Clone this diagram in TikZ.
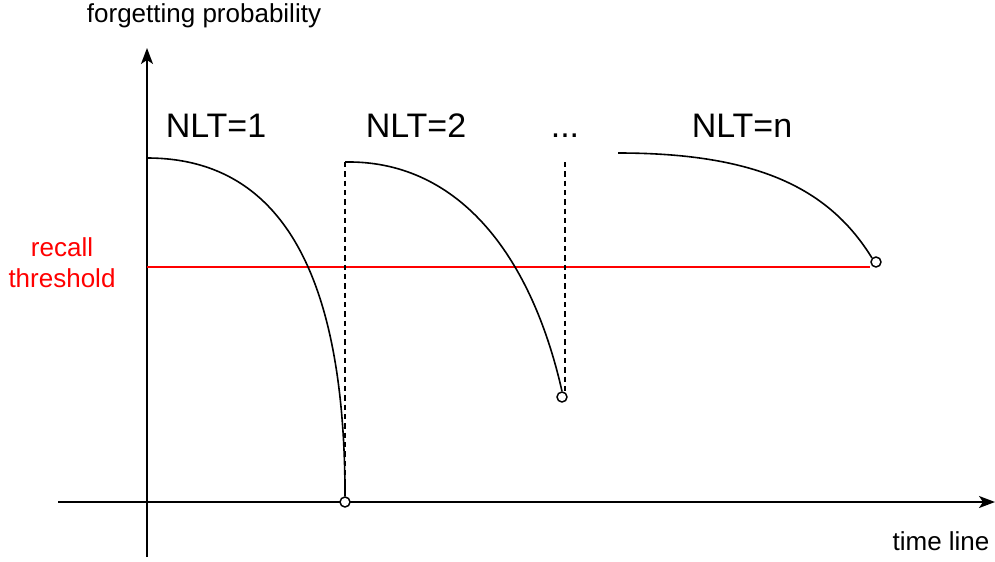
\documentclass[tikz,border=0pt]{standalone}
\usepackage{fontspec}
\setmainfont{Liberation Sans}
\usepackage{tikz}
\usetikzlibrary{arrows.meta,positioning}
\tikzset{
  fgaxis/.style={line width=1.3pt, -{Stealth[length=12pt,width=9pt,inset=3pt]}},
  fgcurve/.style={line width=1.2pt},
  fgdash/.style={line width=1.3pt, dash pattern=on 4pt off 3pt},
  fgend/.style={circle, draw=black, fill=white, line width=1.1pt, minimum size=7.5pt, inner sep=0pt},
  fglab/.style={anchor=base, font=\fontsize{25.5}{30}\selectfont},
  fgtxt/.style={font=\fontsize{19.5}{23.5}\selectfont}
}
\begin{document}
\begin{tikzpicture}[x=0.75pt, y=-0.75pt]
  \useasboundingbox (0,0) rectangle (995,561);
  % axes
  \coordinate (yb) at (147,557);
  \coordinate (yt) at (147,48);
  \coordinate (xl) at (58,502);
  \coordinate (xr) at (995,502);
  \draw[fgaxis] (yb) -- (yt);
  \draw[fgaxis] (xl) -- (xr);
  \node[fgtxt] (ylab) at (204,16) {forgetting probability};
  \node[fgtxt] (xlab) at (941,541) {time line};
  % threshold
  \coordinate (th0) at (147,267);
  \coordinate (th1) at (870,267);
  \draw[red, line width=1.2pt] (th0) -- (th1);
  \node[fgtxt, red, align=center] (thlab) at (62,263) {recall\\threshold};
  % level labels
  \node[fglab] (n1) at (216,137) {NLT=1};
  \node[fglab] (n2) at (416,137) {NLT=2};
  \node[fglab] (dots) at (565,137) {...};
  \node[fglab] (nn) at (742,137) {NLT=n};
  % curves
  \coordinate (c1s) at (147,158);
  \coordinate (c2s) at (345,162);
  \coordinate (c2t) at (565,162);
  \coordinate (c3s) at (618,153);
  \node[fgend] (e1) at (345,502) {};
  \node[fgend] (e2) at (562,397) {};
  \node[fgend] (e3) at (876,262) {};
  \draw[fgdash] (c2s) -- (e1);
  \draw[fgdash] (c2t) -- (e2.north -| c2t);
  \draw[fgcurve] (c1s) .. controls (290,158) and (345,290) .. (e1.north);
  \draw[fgcurve] (c2s) .. controls (455,160) and (530,250) .. (e2.north);
  \draw[fgcurve] (c3s) .. controls (760,153) and (830,190) .. (e3.north west);
\end{tikzpicture}
\end{document}
